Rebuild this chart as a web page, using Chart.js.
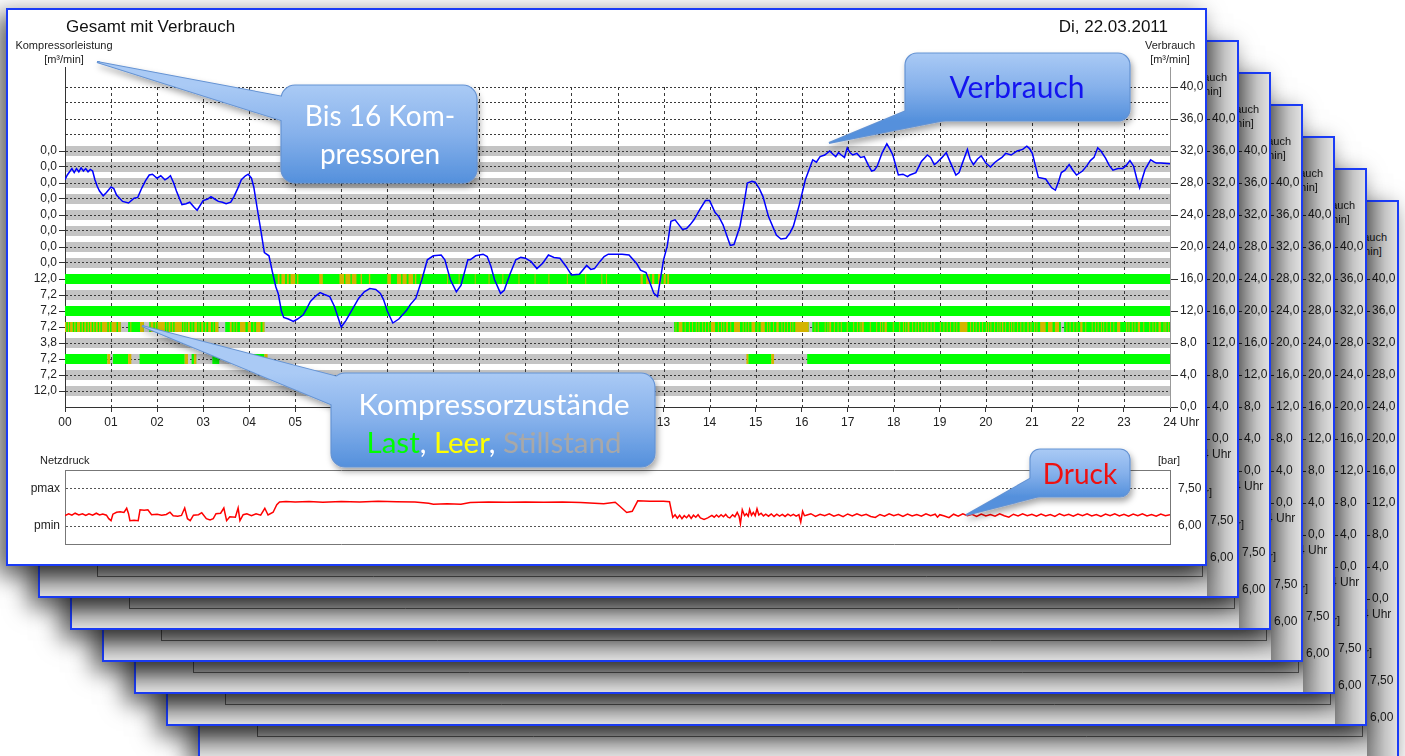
<!DOCTYPE html>
<html>
<head>
<meta charset="utf-8">
<script src="https://cdn.jsdelivr.net/npm/chart.js@4.4.0/dist/chart.umd.min.js"></script>
<style>
html, body { margin:0; padding:0; background:#fff; width:1405px; height:756px; overflow:hidden; position:relative;
  font-family:'Liberation Sans', Arial, sans-serif; color:#222; }
.page { position:absolute; width:1201px; height:558px; box-sizing:border-box; border:2px solid #1b3cf6; background:#fff;
  box-shadow:-8px 8px 22px 2px rgba(0,0,0,0.6); }
.page canvas { position:absolute; }
.page .lbl { position:absolute; font-size:11px; line-height:14px; white-space:nowrap; }
.page .title { position:absolute; font-size:17px; line-height:18px; white-space:nowrap; color:#111; }
.page .shade { position:absolute; left:0; top:0; right:0; bottom:0; background:rgba(0,0,0,0.12); }
.page .shadeR { position:absolute; left:1167px; top:0; width:30px; bottom:0;
  background:linear-gradient(to right, rgba(0,0,0,0.42), rgba(0,0,0,0.12) 60%, rgba(0,0,0,0)); }
.page .shadeB { position:absolute; left:0; width:1167px; top:524px; height:30px;
  background:linear-gradient(to bottom, rgba(0,0,0,0.42), rgba(0,0,0,0.12) 60%, rgba(0,0,0,0)); }
#callouts { position:absolute; left:0; top:0; z-index:100; }
</style>
</head>
<body>

<svg id="callouts" width="1405" height="756">
  <defs>
    <linearGradient id="g1" gradientUnits="userSpaceOnUse" x1="0" y1="85" x2="0" y2="183">
      <stop offset="0" stop-color="#aacaf5"/><stop offset="0.5" stop-color="#86b1eb"/><stop offset="1" stop-color="#5490dc"/>
    </linearGradient>
    <linearGradient id="g2" gradientUnits="userSpaceOnUse" x1="0" y1="53" x2="0" y2="121">
      <stop offset="0" stop-color="#aacaf5"/><stop offset="0.5" stop-color="#86b1eb"/><stop offset="1" stop-color="#5490dc"/>
    </linearGradient>
    <linearGradient id="g3" gradientUnits="userSpaceOnUse" x1="0" y1="373" x2="0" y2="467">
      <stop offset="0" stop-color="#aacaf5"/><stop offset="0.5" stop-color="#86b1eb"/><stop offset="1" stop-color="#5490dc"/>
    </linearGradient>
    <linearGradient id="g4" gradientUnits="userSpaceOnUse" x1="0" y1="449" x2="0" y2="497">
      <stop offset="0" stop-color="#aacaf5"/><stop offset="0.5" stop-color="#86b1eb"/><stop offset="1" stop-color="#5490dc"/>
    </linearGradient>
    <filter id="sh" x="-20%" y="-30%" width="150%" height="170%">
      <feDropShadow dx="2" dy="4" stdDeviation="3" flood-color="#000" flood-opacity="0.35"/>
    </filter>
  </defs>
  <g filter="url(#sh)" stroke="#6593d3" stroke-width="2">
    <polygon points="97,62 300,100 300,126" fill="url(#g1)"/>
    <rect x="281" y="85" width="196" height="98" rx="14" fill="url(#g1)" stroke-width="1.2"/>
    <polygon points="97,62 300,100 300,126" fill="url(#g1)" stroke="none"/>
  </g>
  <g filter="url(#sh)" stroke="#6593d3" stroke-width="2">
    <polygon points="829,143 925,103 955,118" fill="url(#g2)"/>
    <rect x="905" y="53" width="225" height="68" rx="12" fill="url(#g2)" stroke-width="1.2"/>
    <polygon points="829,143 925,103 955,118" fill="url(#g2)" stroke="none"/>
  </g>
  <g filter="url(#sh)" stroke="#6593d3" stroke-width="2">
    <polygon points="142,326 365,384 345,410" fill="url(#g3)"/>
    <rect x="331" y="373" width="324" height="94" rx="14" fill="url(#g3)" stroke-width="1.2"/>
    <polygon points="142,326 365,384 345,410" fill="url(#g3)" stroke="none"/>
  </g>
  <g filter="url(#sh)" stroke="#6593d3" stroke-width="2">
    <polygon points="966,515 1042,472 1056,492" fill="url(#g4)"/>
    <rect x="1030" y="449" width="100" height="48" rx="10" fill="url(#g4)" stroke-width="1.2"/>
    <polygon points="966,515 1042,472 1056,492" fill="url(#g4)" stroke="none"/>
  </g>
  <g font-family="Lato, 'Open Sans', sans-serif" text-anchor="middle">
    <text x="380" y="126" font-size="28" fill="#fff">Bis 16 Kom-</text>
    <text x="380" y="164" font-size="28" fill="#fff">pressoren</text>
    <text x="1017" y="98" font-size="30" fill="#1414f0">Verbrauch</text>
    <text x="494" y="415" font-size="29.5" fill="#fff">Kompressorzustände</text>
    <text x="494" y="453" font-size="29.5" fill="#fff"><tspan fill="#00ff00">Last</tspan>, <tspan fill="#ffff00">Leer</tspan>, <tspan fill="#a8a8a8">Stillstand</tspan></text>
    <text x="1080" y="484" font-size="28" fill="#ee1111">Druck</text>
  </g>
</svg>

<script>
// Stunden-Achse
const hourTicks = [0,1,2,3,4,5,6,7,8,9,10,11,12,13,14,15,16,17,18,19,20,21,22,23,24];
const hourLabels = ['00','01','02','03','04','05','06','07','08','09','10','11','12','13','14','15','16','17','18','19','20','21','22','23','24'];

// Kompressorzeilen (Position auf der Verbrauchsachse) und Beschriftung links
const rowValues = [32,30,28,26,24,22,20,18,16,14,12,10,8,6,4,2];
const rowLabels = ['0,0','0,0','0,0','0,0','0,0','0,0','0,0','0,0','12,0','7,2','7,2','7,2','3,8','7,2','7,2','12,0'];
const gridValues = [2,4,6,8,10,12,14,16,18,20,22,24,26,28,30,32,34,36,38,40];
const rightTicks = [0,4,8,12,16,20,24,28,32,36,40];
const gridTop = 40;

// Verbrauch [m3/min]
const verbrauchHours = [0,0.05,0.1,0.15,0.2,0.25,0.3,0.35,0.4,0.45,0.5,0.55,0.6,0.65,0.7,0.75,0.83,0.9,1,1.06,1.12,1.25,1.38,1.5,1.58,1.67,1.75,1.83,1.9,2,2.08,2.17,2.23,2.29,2.36,2.42,2.54,2.63,2.71,2.8,2.87,3,3.1,3.17,3.25,3.33,3.42,3.5,3.6,3.67,3.75,3.83,3.92,3.98,4.05,4.1,4.17,4.25,4.33,4.43,4.5,4.58,4.63,4.7,4.75,4.85,4.96,5.05,5.17,5.25,5.33,5.45,5.54,5.62,5.75,5.85,6,6.1,6.25,6.38,6.5,6.62,6.75,6.85,6.92,7,7.12,7.25,7.42,7.5,7.62,7.75,7.87,8,8.17,8.25,8.37,8.5,8.6,8.67,8.75,8.8,8.92,9.08,9.17,9.25,9.33,9.46,9.54,9.67,9.79,9.9,10,10.06,10.12,10.25,10.38,10.5,10.62,10.75,10.88,11,11.17,11.33,11.42,11.5,11.62,11.71,11.8,11.92,12.1,12.25,12.42,12.5,12.62,12.7,12.79,12.87,13,13.08,13.16,13.25,13.33,13.41,13.5,13.58,13.66,13.79,13.91,14,14.12,14.2,14.29,14.4,14.45,14.53,14.66,14.75,14.82,14.92,14.99,15.08,15.16,15.28,15.45,15.55,15.66,15.75,15.82,15.95,16.08,16.24,16.32,16.4,16.5,16.61,16.68,16.74,16.8,16.86,16.93,16.99,17.05,17.11,17.2,17.28,17.36,17.45,17.52,17.58,17.64,17.75,17.85,17.92,17.98,18.1,18.2,18.3,18.35,18.48,18.6,18.73,18.8,18.88,18.93,19.05,19.14,19.22,19.35,19.42,19.48,19.6,19.66,19.73,19.82,19.9,20,20.1,20.2,20.27,20.35,20.43,20.55,20.68,20.8,20.89,20.95,21.01,21.14,21.3,21.43,21.51,21.58,21.64,21.72,21.81,21.89,21.97,22.1,22.2,22.27,22.35,22.43,22.5,22.6,22.68,22.76,22.87,22.97,23.05,23.13,23.21,23.28,23.34,23.4,23.46,23.58,23.66,23.7,23.8,24];
const verbrauchValues = [28.4,29,29.4,29.8,29.3,29.8,29.4,29.9,29.5,29.8,29.4,29.7,29.5,28.4,27.6,27,26.4,26.8,27.5,27.3,26.5,25.7,25.5,26.1,26.2,27.4,28.3,29,29.1,28.6,28.9,28.4,28.6,28.9,28,27,25.3,25.4,25.6,25,24.6,25.8,26,26.3,26,25.7,25.6,25.4,25.6,26.3,27.3,28.4,28.9,29.1,28.6,27.5,25,22.2,19.3,18.9,17,15,14.2,12,11.2,11,10.7,11,11.5,12.3,13.2,13.9,14.3,14.1,13.8,12.6,10,10.8,12.3,13.6,14.4,14.8,14.7,14.2,13.4,12,10.5,11,12.1,12.8,13.6,15.9,18.4,18.9,19,18.4,15.9,14.4,15.2,16.7,18.4,18.4,18.9,19.1,18.8,17.6,15.9,14.2,14.6,16.7,18.4,18.7,18.6,18.4,18.2,17.3,18,19,18.7,18.6,17.6,16.5,16.6,17.7,17.2,17.3,18.2,18.8,19.1,19.1,19.1,19,17.9,17.1,16.8,15.6,14.2,13.8,18.4,20.1,23.2,23.4,22.8,22.2,22.3,22.8,23.4,24.7,25.8,25.8,24.3,23.8,22.8,21,20.2,20.3,22.6,25.5,28,28.2,28.1,27.3,26.3,23.8,21.5,21,21.1,21.8,22.6,25.3,28.4,30.9,30.6,31.3,31.5,32,31.6,31.3,31.8,31.5,31.2,32.4,31.8,31.5,31.7,31.2,31.3,30.2,29.5,29.6,30.1,31.8,32.9,32.2,31.5,29,29.1,28.8,29,29.3,30.7,31.5,31.2,30.3,30.5,31.2,31.8,30.7,29,29.3,30.3,32.2,31,30.3,31,31.4,30.5,30,30.6,30.9,31.2,31.7,31.5,32,32.2,32.6,32.3,31.7,28.7,28.5,27.4,27.1,28.2,29.3,29.6,30.3,29.6,29,29.5,30.2,30.8,31.2,32.4,32,31.1,30.2,29.6,29.8,29.8,30.2,30.8,30.1,28.5,27.4,28.6,29.7,30.9,30.6,30.5,30.5,30.4];

// Netzdruck [bar]
const druckHours = [0,0.08,0.15,0.22,0.3,0.38,0.45,0.52,0.6,0.68,0.75,0.82,0.9,0.95,1,1.04,1.12,1.2,1.28,1.34,1.38,1.41,1.5,1.59,1.63,1.72,1.8,1.88,2,2.1,2.2,2.28,2.35,2.45,2.53,2.6,2.66,2.72,2.79,2.9,2.97,3.07,3.15,3.22,3.28,3.38,3.45,3.51,3.58,3.7,3.76,3.8,3.87,3.95,4.05,4.15,4.25,4.34,4.41,4.52,4.6,4.66,4.8,5,5.3,5.6,6,6.4,6.8,7.2,7.6,7.9,8,8.3,8.6,8.8,9.2,9.6,10,10.4,10.8,11.2,11.5,11.7,11.95,12.05,12.2,12.32,12.44,12.7,13,13.13,
  13.2,13.25,13.3,13.35,13.4,13.45,13.5,13.55,13.6,13.65,13.7,13.75,13.8,13.88,13.96,14.05,14.1,14.15,14.2,14.25,14.3,14.35,14.4,14.44,14.5,14.55,14.6,14.64,14.67,14.71,14.76,14.8,14.84,14.87,14.91,14.95,14.99,15.03,15.07,15.12,15.17,15.22,15.28,15.34,15.4,15.46,15.52,15.58,15.64,15.7,15.76,15.82,15.88,15.94,15.98,16.02,16.06,
  16.1,16.2,16.3,16.4,16.5,16.6,16.7,16.8,16.9,17,17.1,17.2,17.3,17.4,17.5,17.6,17.7,17.8,17.9,18,18.1,18.2,18.3,18.4,18.5,18.6,18.7,18.8,18.9,18.95,19,19.1,19.2,19.3,19.4,19.5,19.6,19.7,19.8,19.9,20,20.1,20.2,20.3,20.4,20.5,20.6,20.7,20.8,20.9,21,21.1,21.2,21.3,21.4,21.5,21.6,21.7,21.8,21.9,22,22.1,22.2,22.3,22.4,22.5,22.6,22.7,22.8,22.9,23,23.1,23.2,23.3,23.4,23.5,23.6,23.7,23.8,23.9,24];
const druckValues = [6.42,6.5,6.44,6.52,6.45,6.5,6.43,6.5,6.44,6.52,6.45,6.49,6.44,6.3,6.22,6.48,6.56,6.58,6.55,6.72,6.5,6.22,6.24,6.22,6.66,6.64,6.66,6.46,6.48,6.44,6.47,6.56,6.42,6.4,6.43,6.73,6.3,6.22,6.44,6.46,6.54,6.3,6.25,6.3,6.5,6.52,6.73,6.22,6.38,6.36,6.73,6.22,6.46,6.5,6.42,6.5,6.44,6.72,6.45,6.56,6.86,6.97,6.99,6.97,6.99,6.96,6.99,6.97,7,6.98,6.97,6.92,6.88,6.9,6.88,6.95,6.97,6.96,6.97,6.96,6.97,6.95,6.92,6.9,6.96,6.8,6.55,6.6,7.02,7,7,6.98,
  6.35,6.46,6.32,6.44,6.3,6.42,6.34,6.45,6.31,6.44,6.36,6.46,6.33,6.27,6.33,6.43,6.36,6.45,6.37,6.46,6.38,6.47,6.36,6.33,6.46,6.38,6.55,6.4,6.1,6.66,6.42,6.5,6.4,6.67,6.44,6.55,6.42,6.7,6.45,6.52,6.41,6.48,6.4,6.49,6.39,6.48,6.4,6.47,6.39,6.48,6.41,6.47,6.4,6.46,6.16,6.6,6.42,
  6.44,6.5,6.39,6.48,6.42,6.5,6.4,6.47,6.38,6.49,6.41,6.5,6.42,6.48,6.39,6.35,6.47,6.4,6.5,6.42,6.48,6.39,6.49,6.41,6.47,6.4,6.5,6.42,6.48,6.36,6.46,6.41,6.34,6.48,6.4,6.5,6.42,6.48,6.39,6.49,6.41,6.47,6.4,6.5,6.42,6.36,6.48,6.41,6.5,6.42,6.48,6.4,6.49,6.41,6.47,6.39,6.5,6.42,6.48,6.4,6.49,6.42,6.5,6.41,6.47,6.39,6.49,6.42,6.5,6.41,6.48,6.4,6.49,6.42,6.5,6.41,6.47,6.4,6.49,6.42,6.46];
const druckTicks = [6, 7.5];
const druckLeftLabels = ['pmin', 'pmax'];
const druckRightLabels = ['6,00', '7,50'];

// Kompressorzustaende: Laufzeiten (Last, gruen) und Leerlauf (gelb) je Zeile, in Stunden
const last16 = [[0, 24]];
const leer16 = [[4.62,4.66],[4.7,4.78],[4.82,4.86],[4.9,5.0],[5.04,5.07],[5.52,5.6],[5.96,6.06],[6.09,6.2],[6.23,6.33],[6.42,6.45],[6.6,6.63],[7.0,7.08],[7.21,7.3],[7.33,7.42],[7.46,7.56],[7.6,7.63],[7.72,7.75],[8.3,8.32],[8.55,8.57],[8.9,8.92],[9.2,9.22],[9.5,9.52],[9.85,9.87],[10.2,10.22],[10.5,10.52],[10.9,10.92],[11.3,11.32],[11.65,11.67],[11.75,11.77],[12.5,12.55],[12.62,12.7],[12.75,12.8],[12.88,12.95],[13.0,13.05],[13.08,13.12]];
const last12 = [[0, 24]];
const last10 = [[0,1.21],[1.37,1.71],[1.83,3.33],[3.48,4.33],[13.23,16.15],[16.23,21.63],[21.7,24]];
const leer10 = [[0,0.03],[0.06,0.09],[0.11,0.17],[0.2,0.23],[0.26,0.33],[0.36,0.39],[0.42,0.46],[0.49,0.52],[0.54,0.58],[0.61,0.64],[0.67,0.71],[0.74,0.77],[0.8,0.92],[0.95,0.98],[1.01,1.12],[1.15,1.21],
  [1.42,1.44],[1.5,1.52],[1.63,1.71],[1.86,1.92],[1.95,1.98],[2.01,2.17],[2.2,2.22],[2.25,2.29],[2.32,2.35],[2.38,2.54],[2.57,2.59],[2.62,2.64],[2.67,2.71],[2.75,2.77],[2.81,2.87],[2.9,2.92],[2.96,3.0],[3.04,3.07],[3.11,3.17],[3.21,3.23],[3.26,3.33],
  [3.52,3.54],[3.58,3.62],[3.66,3.68],[3.72,3.74],[3.8,3.92],[3.97,4.04],[4.09,4.11],[4.15,4.25],[4.29,4.33],
  [13.26,13.28],[13.33,13.41],[13.46,13.48],[13.55,13.57],[13.62,13.64],[13.7,13.72],[13.76,13.78],[13.84,13.86],[13.9,13.92],[13.97,13.99],[14.03,14.12],[14.18,14.2],[14.25,14.27],[14.3,14.32],[14.36,14.4],[14.45,14.47],[14.53,14.66],[14.72,14.74],[14.78,14.8],[14.84,14.86],[14.91,14.99],[15.04,15.06],[15.11,15.2],[15.25,15.27],[15.3,15.32],[15.38,15.4],[15.45,15.5],[15.56,15.58],[15.62,15.64],[15.68,15.7],[15.75,15.77],[15.8,15.82],[15.86,16.15],
  [16.28,16.3],[16.35,16.37],[16.42,16.44],[16.5,16.52],[16.56,16.58],[16.6,16.64],[16.7,16.72],[16.78,16.8],[16.85,16.87],[16.92,16.94],[16.98,17.0],[17.05,17.07],[17.12,17.14],[17.2,17.22],[17.26,17.28],[17.3,17.35],[17.42,17.44],[17.48,17.5],[17.55,17.57],[17.62,17.64],[17.7,17.72],[17.75,17.77],[17.8,17.85],[17.92,17.94],[17.98,18.0],[18.05,18.07],[18.12,18.14],[18.2,18.22],[18.25,18.27],[18.3,18.34],[18.4,18.42],[18.47,18.49],[18.53,18.55],[18.6,18.62],[18.67,18.69],[18.73,18.75],[18.8,18.82],[18.87,18.89],[18.94,18.96],[19.0,19.02],[19.08,19.1],[19.15,19.17],[19.22,19.24],[19.3,19.32],[19.36,19.38],[19.43,19.6],[19.66,19.68],[19.72,19.74],[19.78,19.8],[19.85,19.87],[19.92,19.94],[20.0,20.02],[20.05,20.07],[20.1,20.12],[20.18,20.2],[20.25,20.27],[20.3,20.32],[20.35,20.38],[20.42,20.44],[20.5,20.52],[20.55,20.57],[20.6,20.62],[20.68,20.7],[20.75,20.77],[20.82,20.84],[20.9,20.93],[20.97,20.99],[21.05,21.07],[21.1,21.12],[21.18,21.3],[21.35,21.45],[21.5,21.59],
  [21.75,21.77],[21.82,21.84],[21.9,21.92],[21.97,21.99],[22.05,22.1],[22.16,22.18],[22.22,22.24],[22.3,22.32],[22.37,22.39],[22.43,22.45],[22.5,22.52],[22.55,22.57],[22.62,22.64],[22.7,22.72],[22.77,22.79],[22.85,22.92],[22.98,23.0],[23.05,23.07],[23.1,23.12],[23.17,23.19],[23.23,23.25],[23.3,23.35],[23.42,23.44],[23.48,23.5],[23.55,23.57],[23.62,23.64],[23.68,23.7],[23.75,23.8],[23.86,23.88],[23.9,23.92],[23.96,23.98]];
const last6 = [[0,0.92],[1.04,1.37],[1.62,2.6],[2.75,2.85],[3.2,3.35],[3.79,4.33],[14.84,15.34],[16.12,24]];
const leer6 = [[0.92,0.98],[1.37,1.44],[2.6,2.67],[2.8,2.85],[4.33,4.4],[14.8,14.84],[15.34,15.4]];

const lastRows = [[16, last16], [12, last12], [10, last10], [6, last6]];
const leerRows = [[16, leer16], [10, leer10], [6, leer6]];

const FONT = "'Liberation Sans', Arial, sans-serif";
Chart.defaults.font.family = FONT;
Chart.defaults.font.size = 12;
Chart.defaults.color = '#222';

function statusPoints(rows) {
  const pts = [];
  rows.forEach(([row, intervals]) => {
    intervals.forEach(([a, b]) => {
      pts.push({x: a, y: row}, {x: b, y: row}, {x: b, y: null});
    });
  });
  return pts;
}

const dez = (v, n) => v.toFixed(n).replace('.', ',');

// graue Baender hinter den Gitterlinien
const bandPlugin = {
  id: 'bands',
  beforeDraw(chart) {
    const {ctx, chartArea, scales} = chart;
    const y = scales.y;
    ctx.save();
    ctx.fillStyle = '#c4c4c4';
    rowValues.forEach(v => {
      const top = y.getPixelForValue(v + 0.625);
      const bot = y.getPixelForValue(v - 0.625);
      ctx.fillRect(chartArea.left, top, chartArea.right - chartArea.left, bot - top);
    });
    ctx.restore();
  }
};

// senkrechte Stundenlinien, erst ab der obersten Gitterlinie
const hourLinePlugin = {
  id: 'hourLines',
  beforeDatasetsDraw(chart) {
    const {ctx, chartArea, scales} = chart;
    const top = scales.y.getPixelForValue(gridTop);
    ctx.save();
    ctx.strokeStyle = '#3a3a3a';
    ctx.lineWidth = 1;
    ctx.setLineDash([3, 3]);
    hourTicks.forEach(h => {
      if (h === 0 || h === 24) return;
      const x = Math.round(scales.x.getPixelForValue(h)) + 0.5;
      ctx.beginPath();
      ctx.moveTo(x, top);
      ctx.lineTo(x, chartArea.bottom);
      ctx.stroke();
    });
    ctx.restore();
  }
};

function mainConfig() {
  return {
    type: 'line',
    data: {
      datasets: [
        { data: verbrauchHours.map((h, i) => ({x: h, y: verbrauchValues[i]})), borderColor: '#0000ff', borderWidth: 1.5,
          pointRadius: 0, tension: 0, yAxisID: 'y2' },
        { data: statusPoints(leerRows), borderColor: '#d4b400', borderWidth: 10, pointRadius: 0, yAxisID: 'y' },
        { data: statusPoints(lastRows), borderColor: '#00ff00', borderWidth: 10, pointRadius: 0, yAxisID: 'y' }
      ]
    },
    options: {
      responsive: false, animation: false, events: [],
      layout: { padding: { top: 20, left: 0, right: 0, bottom: 0 } },
      plugins: { legend: { display: false }, tooltip: { enabled: false } },
      scales: {
        x: {
          type: 'linear', min: 0, max: 24, position: 'bottom',
          afterBuildTicks: s => { s.ticks = hourTicks.map(v => ({value: v})); },
          afterFit: s => { s.height = 33; },
          ticks: { autoSkip: false, maxRotation: 0, padding: 3, callback: (v, i) => hourLabels[i] },
          grid: { drawOnChartArea: false, tickLength: 5, tickColor: '#333', tickBorderDash: [] },
          border: { display: true, color: '#333', width: 1 }
        },
        y: {
          type: 'linear', position: 'left', min: 0, max: 42.5,
          afterBuildTicks: s => { s.ticks = gridValues.map(v => ({value: v})); },
          afterFit: s => { s.width = 55; },
          ticks: { autoSkip: false, padding: 2,
            callback: v => { const i = rowValues.indexOf(v); return i >= 0 ? rowLabels[i] : ''; } },
          grid: {
            color: '#3a3a3a', borderDash: [2, 2], tickLength: 6, tickBorderDash: [],
            tickColor: c => (c.tick && c.tick.value <= 32) ? '#333' : 'rgba(0,0,0,0)'
          },
          border: { display: true, color: '#333', width: 1, dash: [2, 2] }
        },
        y2: {
          type: 'linear', position: 'right', min: 0, max: 42.5,
          afterBuildTicks: s => { s.ticks = rightTicks.map(v => ({value: v})); },
          afterFit: s => { s.width = 35; },
          ticks: { autoSkip: false, padding: 2, callback: v => dez(v, 1) },
          grid: { drawOnChartArea: false, tickLength: 8, tickColor: '#333', tickBorderDash: [] },
          border: { display: true, color: '#999', width: 1 }
        }
      }
    },
    plugins: [bandPlugin, hourLinePlugin]
  };
}

function druckConfig() {
  return {
    type: 'line',
    data: {
      datasets: [
        { data: druckHours.map((h, i) => ({x: h, y: druckValues[i]})), borderColor: '#ff0000', borderWidth: 1.5,
          pointRadius: 0, tension: 0, yAxisID: 'y' }
      ]
    },
    options: {
      responsive: false, animation: false, events: [],
      layout: { padding: { top: 13, left: 0, right: 0, bottom: 12 } },
      plugins: { legend: { display: false }, tooltip: { enabled: false } },
      scales: {
        x: {
          type: 'linear', min: 0, max: 24, position: 'bottom',
          afterFit: s => { s.height = 0; },
          ticks: { display: false }, grid: { display: false },
          border: { display: true, color: '#777', width: 1 }
        },
        xTop: {
          type: 'linear', min: 0, max: 24, position: 'top',
          afterFit: s => { s.height = 0; },
          ticks: { display: false }, grid: { display: false },
          border: { display: true, color: '#777', width: 1 }
        },
        y: {
          type: 'linear', position: 'left', min: 5.25, max: 8.25,
          afterBuildTicks: s => { s.ticks = druckTicks.map(v => ({value: v})); },
          afterFit: s => { s.width = 55; },
          ticks: { autoSkip: false, padding: 5, callback: (v, i) => druckLeftLabels[i] },
          grid: { color: '#555', borderDash: [2, 2], drawTicks: false },
          border: { display: true, color: '#777', width: 1, dash: [2, 2] }
        },
        y2: {
          type: 'linear', position: 'right', min: 5.25, max: 8.25,
          afterBuildTicks: s => { s.ticks = druckTicks.map(v => ({value: v})); },
          afterFit: s => { s.width = 35; },
          ticks: { autoSkip: false, padding: 8, callback: (v, i) => druckRightLabels[i] },
          grid: { drawOnChartArea: false, drawTicks: false },
          border: { display: true, color: '#777', width: 1 }
        }
      }
    }
  };
}

function buildPage(k) {
  const page = document.createElement('div');
  page.className = 'page';
  page.style.left = (6 + 32 * k) + 'px';
  page.style.top = (8 + 32 * k) + 'px';
  page.style.zIndex = 20 - k;
  page.innerHTML =
    '<div class="title" style="left:58px;top:8px">Gesamt mit Verbrauch</div>' +
    '<div class="title" style="right:37px;top:8px">Di, 22.03.2011</div>' +
    '<div class="lbl" style="left:6px;top:28px;width:100px;text-align:center">Kompressorleistung<br>[m³/min]</div>' +
    '<div class="lbl" style="left:1112px;top:28px;width:100px;text-align:center">Verbrauch<br>[m³/min]</div>' +
    '<canvas class="main" width="1195" height="393" style="left:2px;top:37px;width:1195px;height:393px"></canvas>' +
    '<div class="lbl" style="left:1172px;top:405px;font-size:12px">Uhr</div>' +
    '<div class="lbl" style="left:32px;top:443px">Netzdruck</div>' +
    '<div class="lbl" style="left:1150px;top:443px">[bar]</div>' +
    '<canvas class="druck" width="1195" height="105" style="left:2px;top:445px;width:1195px;height:105px"></canvas>' +
    (k > 0 ? '<div class="shade"></div><div class="shadeR"></div><div class="shadeB"></div>' : '');
  document.body.appendChild(page);
  new Chart(page.querySelector('.main'), mainConfig());
  new Chart(page.querySelector('.druck'), druckConfig());
}

for (let k = 6; k >= 0; k--) buildPage(k);
</script>
</body>
</html>
